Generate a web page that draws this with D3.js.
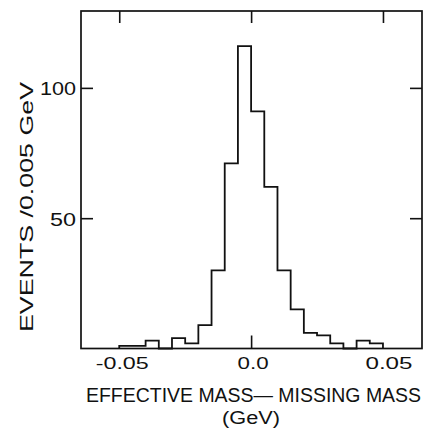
<!DOCTYPE html>
<html>
<head>
<meta charset="utf-8">
<script src="https://cdn.jsdelivr.net/npm/d3@7"></script>
<style>
  html, body { margin: 0; padding: 0; background: #fff; }
  svg { display: block; }
  text { font-family: "Liberation Sans", "DejaVu Sans", sans-serif; fill: #111; }
</style>
</head>
<body>
<svg id="chart" width="430" height="429"></svg>
<script>
// Histogram: effective mass minus missing mass, 0.005 GeV bins
const binLow = [-0.050, -0.045, -0.040, -0.035, -0.030, -0.025, -0.020, -0.015, -0.010, -0.005,
                 0.000,  0.005,  0.010,  0.015,  0.020,  0.025,  0.030,  0.035,  0.040,  0.045];
const binWidth = 0.005;
const events = [1, 1, 3, 0, 4, 2, 9, 30, 71, 116,
                91, 62, 30, 15, 6, 5, 2, 0, 3, 2];

const xTickValues = [-0.05, 0.0, 0.05];
const xTickLabels = ["-0.05", "0.0", "0.05"];
const yTickValues = [50, 100];
const yTickLabels = ["50", "100"];

const xTitle = "EFFECTIVE MASS\u2014 MISSING MASS";
const xUnit = "(GeV)";
const yTitle = "EVENTS /0.005 GeV";

const frame = { left: 81, right: 422, top: 11, bottom: 348.5 };

const svg = d3.select("#chart");

const x = d3.scaleLinear().domain([-0.0645, 0.0648]).range([frame.left, frame.right]);
const y = d3.scaleLinear().domain([0, 129.5]).range([frame.bottom, frame.top]);

// step outline of the histogram
const pts = [[binLow[0], 0]];
binLow.forEach((b, i) => pts.push([b, events[i]]));
pts.push([binLow[binLow.length - 1] + binWidth, 0]);

const line = d3.line()
  .x(d => x(d[0]))
  .y(d => y(d[1]))
  .curve(d3.curveStepAfter);

svg.append("path")
  .attr("d", line(pts))
  .attr("fill", "none")
  .attr("stroke", "#111")
  .attr("stroke-width", 1.8)
  .attr("stroke-linejoin", "miter");

// frame
svg.append("rect")
  .attr("x", frame.left).attr("y", frame.top)
  .attr("width", frame.right - frame.left)
  .attr("height", frame.bottom - frame.top)
  .attr("fill", "none")
  .attr("stroke", "#111")
  .attr("stroke-width", 1.7);

function tickStyle(g) {
  g.select(".domain").remove();
  g.selectAll(".tick line").attr("stroke", "#111").attr("stroke-width", 1.6);
  g.selectAll(".tick text").remove();
}

// inward tick marks
svg.append("g").attr("transform", `translate(0,${frame.top})`)
  .call(d3.axisTop(x).tickValues(xTickValues).tickSize(-12)).call(tickStyle);
svg.append("g").attr("transform", `translate(0,${frame.bottom})`)
  .call(d3.axisBottom(x).tickValues([0]).tickSize(-13)).call(tickStyle);
svg.append("g").attr("transform", `translate(${frame.left},0)`)
  .call(d3.axisLeft(y).tickValues(yTickValues).tickSize(-12)).call(tickStyle);
svg.append("g").attr("transform", `translate(${frame.right},0)`)
  .call(d3.axisRight(y).tickValues(yTickValues).tickSize(-12)).call(tickStyle);

// x tick labels
const xLabelWidths = [53, 31, 47];
const xLabelShift = [2.5, 1.5, 5.5];
const xl = svg.append("g").attr("transform", `translate(0,${frame.bottom})`)
  .call(d3.axisBottom(x).tickValues(xTickValues).tickSize(0)
    .tickFormat((d, i) => xTickLabels[i]));
xl.select(".domain").remove();
xl.selectAll(".tick text")
  .attr("y", 20.5)
  .attr("dy", 0)
  .attr("x", (d, i) => xLabelShift[i])
  .attr("font-size", 17)
  .attr("textLength", (d, i) => xLabelWidths[i])
  .attr("lengthAdjust", "spacingAndGlyphs")
  .style("font-family", "Liberation Sans, sans-serif")
  .attr("fill", "#111");

// y tick labels
const yLabelWidths = [26, 36];
const yl = svg.append("g").attr("transform", `translate(${frame.left},0)`)
  .call(d3.axisLeft(y).tickValues(yTickValues).tickSize(0)
    .tickFormat((d, i) => yTickLabels[i]));
yl.select(".domain").remove();
yl.selectAll(".tick text")
  .attr("x", -5)
  .attr("dy", "0.36em")
  .attr("font-size", 19)
  .attr("textLength", (d, i) => yLabelWidths[i])
  .attr("lengthAdjust", "spacingAndGlyphs")
  .style("font-family", "Liberation Sans, sans-serif")
  .attr("fill", "#111");

// axis titles
svg.append("text")
  .attr("x", 86).attr("y", 401.5)
  .attr("font-size", 20)
  .attr("textLength", 335)
  .attr("lengthAdjust", "spacingAndGlyphs")
  .text(xTitle);

svg.append("text")
  .attr("x", 251).attr("y", 424)
  .attr("text-anchor", "middle")
  .attr("font-size", 18)
  .attr("textLength", 58)
  .attr("lengthAdjust", "spacingAndGlyphs")
  .text(xUnit);

svg.append("text")
  .attr("transform", "translate(33,207) rotate(-90)")
  .attr("text-anchor", "middle")
  .attr("font-size", 18)
  .attr("textLength", 250)
  .attr("lengthAdjust", "spacingAndGlyphs")
  .text(yTitle);
</script>
</body>
</html>
